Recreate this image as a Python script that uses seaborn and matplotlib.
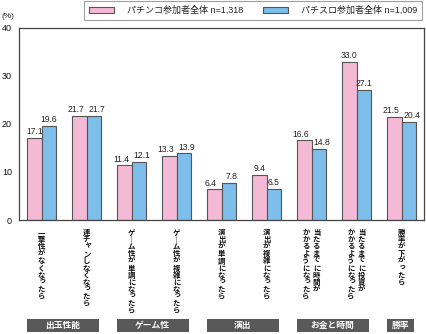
import matplotlib
matplotlib.use("Agg")
import matplotlib.pyplot as plt
import matplotlib.transforms as mtransforms
from matplotlib.patches import Rectangle
import seaborn as sns
import pandas as pd

# ---- data ----
categories = [
    "一撃性がなくなったら",
    "連チャンしなくなったら",
    "ゲーム性が単調になったら",
    "ゲーム性が複雑になったら",
    "演出が単調になったら",
    "演出が複雑になったら",
    "当たるまでに時間が|かかるようになったら",
    "当たるまでに投資が|かかるようになったら",
    "勝率が下がったら",
]
series_names = ["パチンコ参加者全体 n=1,318", "パチスロ参加者全体 n=1,009"]
pachinko = [17.1, 21.7, 11.4, 13.3, 6.4, 9.4, 16.6, 33.0, 21.5]
pachislo = [19.6, 21.7, 12.1, 13.9, 7.8, 6.5, 14.8, 27.1, 20.4]
groups = ["出玉性能", "ゲーム性", "演出", "お金と時間", "勝率"]
group_spans = [(0, 1), (2, 3), (4, 5), (6, 7), (8, 8)]
yticks = [0, 10, 20, 30, 40]

df = pd.DataFrame({
    "cat": categories * 2,
    "series": [series_names[0]] * len(categories) + [series_names[1]] * len(categories),
    "value": pachinko + pachislo,
})

sns.set_theme(style="white")
plt.rcParams["font.family"] = ["Liberation Sans", "Noto Sans CJK JP"]

fig = plt.figure(figsize=(4.27, 3.34), dpi=100)
ax = fig.add_axes([19 / 427, 1 - 220 / 334, 405 / 427, 192 / 334])

colors = ["#F4B9D5", "#7EBEEA"]
sns.barplot(data=df, x="cat", y="value", hue="series", palette=colors,
            width=0.64, gap=0, edgecolor="#555555", linewidth=0.8,
            errorbar=None, ax=ax, saturation=1)

# value labels, nudged apart when the pair is at a similar height
for side, c in zip([-1, 1], ax.containers):
    for j, bar in enumerate(c):
        h = bar.get_height()
        close = abs(pachinko[j] - pachislo[j]) < 2.0
        dx = side * 3.2 if close else 0
        ax.annotate(f"{h:.1f}", (bar.get_x() + bar.get_width() / 2, h),
                    xytext=(dx * 0.72, 1.2), textcoords="offset points",
                    ha="center", va="bottom", fontsize=6.2, color="#222222")

ax.set_ylim(0, 40)
ax.set_xlim(-0.5, len(categories) - 0.5)
ax.set_yticks(yticks)
ax.set_yticklabels([str(t) for t in yticks], fontsize=6.5)
ax.tick_params(axis="y", direction="in", length=3, width=0.8, pad=5, colors="#333333", labelcolor="#111111")
ax.set_xticks([])
ax.set_xlabel("")
ax.set_ylabel("")
for s in ax.spines.values():
    s.set_color("#444444")
    s.set_linewidth(0.9)

# legend
handles, labels = ax.get_legend_handles_labels()
if ax.get_legend():
    ax.get_legend().remove()
leg = fig.legend(handles, labels, loc="upper right", bbox_to_anchor=(422 / 427, 1 - 1 / 334),
                 ncol=2, fontsize=6.5, frameon=True, fancybox=False, edgecolor="#888888",
                 handlelength=2.8, handleheight=0.8, handletextpad=1.4, columnspacing=2.2,
                 borderpad=0.55, borderaxespad=0)
leg.get_frame().set_linewidth(0.8)

fig.text(2 / 427, 1 - 17 / 334, "(%)", fontsize=6, ha="left", va="center")

# vertical category labels, one glyph at a time
blend = mtransforms.blended_transform_factory(ax.transData, fig.transFigure)
label_base = 1 - 235 / 334
step_px = 7.1
small = set("ッっャゃュゅョょァぁィぃゥぅェぇォぉ")

def draw_vertical(i, text, xoff_px):
    for k, ch in enumerate(text):
        dx, dy = xoff_px, -(k * step_px)
        if ch == "ー":
            ch = "｜"
        elif ch in small:
            dx += 1.2
            dy += 1.5
        t = blend + mtransforms.ScaledTranslation(dx / 100, dy / 100, fig.dpi_scale_trans)
        ax.text(i, label_base, ch, transform=t, ha="center", va="baseline",
                fontsize=5.3, color="#111111", family=["Noto Sans CJK JP"],
                fontweight="bold")

for i, lab in enumerate(categories):
    cols = lab.split("|")
    if len(cols) == 1:
        draw_vertical(i, cols[0], 0)
    else:
        # vertical writing: first column on the right
        for col, off in zip(cols, [5.0, -5.5]):
            draw_vertical(i, col, off)

# group boxes
for g, (a, b) in zip(groups, group_spans):
    x0 = a - 0.33
    x1 = b + 0.27
    y0 = 1 - 332 / 334
    h = 13 / 334
    r = Rectangle((x0, y0), x1 - x0, h, transform=blend, facecolor="#595959",
                  edgecolor="none", clip_on=False)
    ax.add_artist(r)
    ax.text((x0 + x1) / 2, y0 + h / 2, g, transform=blend, ha="center", va="center",
            fontsize=6.3, color="white", fontweight="bold")

fig.savefig("out.png", dpi=100)
